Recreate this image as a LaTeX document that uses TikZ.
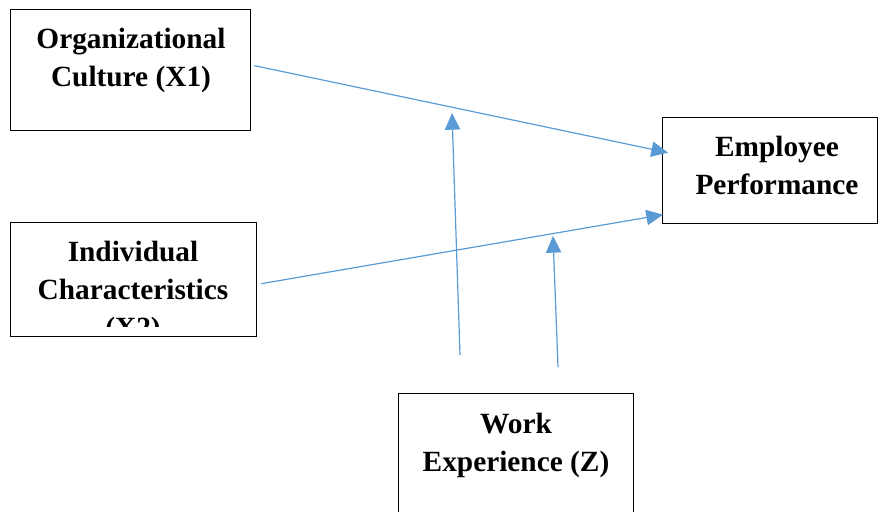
\documentclass[tikz,border=0pt]{standalone}
\usepackage{fontspec}
\setmainfont{Liberation Serif}
\usepackage{tikz}
\usetikzlibrary{arrows.meta, positioning}
\definecolor{linkblue}{HTML}{5B9BD5}

\begin{document}
\begin{tikzpicture}[
    x=0.75pt, y=-0.75pt,
    varbox/.style={rectangle, draw, line width=1pt, anchor=north west, inner sep=0pt},
    vartext/.style={align=center, anchor=north, inner sep=0pt, font=\fontsize{22}{28.5}\selectfont\bfseries},
    arrow/.style={-{Triangle[length=12.5pt, width=11.5pt]}, draw=linkblue, line width=0.9pt}
]
\useasboundingbox (0,0) rectangle (879,511);

% variables
\node[varbox, minimum width=180pt, minimum height=90.75pt] (culture) at (10,9) {};
\node[varbox, minimum width=161.25pt, minimum height=79.5pt] (performance) at (662,117) {};
\node[varbox, minimum width=184.5pt, minimum height=85.5pt] (individual) at (10,222) {};
\node[varbox, minimum width=176.25pt, minimum height=110.25pt] (experience) at (398,393) {};

% labels
\node[vartext] (culture_txt) at (131,28) {Organizational\\Culture (X1)};
\node[vartext] (performance_txt) at (777,136) {Employee\\Performance};
\begin{scope}
\clip (10,222) rectangle (256,326);
\node[vartext] (individual_txt) at (133,241) {Individual\\Characteristics\\(X2)};
\end{scope}
\node[vartext] (experience_txt) at (516,413) {Work\\Experience (Z)};

% arrow ends
\coordinate (culture_out) at ([xshift=2.25pt, yshift=3.4pt]culture.east);
\coordinate (performance_in1) at ([xshift=4.5pt, yshift=13.5pt]performance.west);
\coordinate (individual_out) at ([xshift=3pt, yshift=-3pt]individual.east);
\coordinate (performance_in2) at ([xshift=0.75pt, yshift=-33pt]performance.west);
\coordinate (moderate1_start) at (460,355);
\coordinate (moderate1_end) at (452,113);
\coordinate (moderate2_start) at (558,367);
\coordinate (moderate2_end) at (553,236);

% connections
\draw[arrow] (culture_out) -- (performance_in1);
\draw[arrow] (individual_out) -- (performance_in2);
\draw[arrow] (moderate1_start) -- (moderate1_end);
\draw[arrow] (moderate2_start) -- (moderate2_end);

\end{tikzpicture}
\end{document}
